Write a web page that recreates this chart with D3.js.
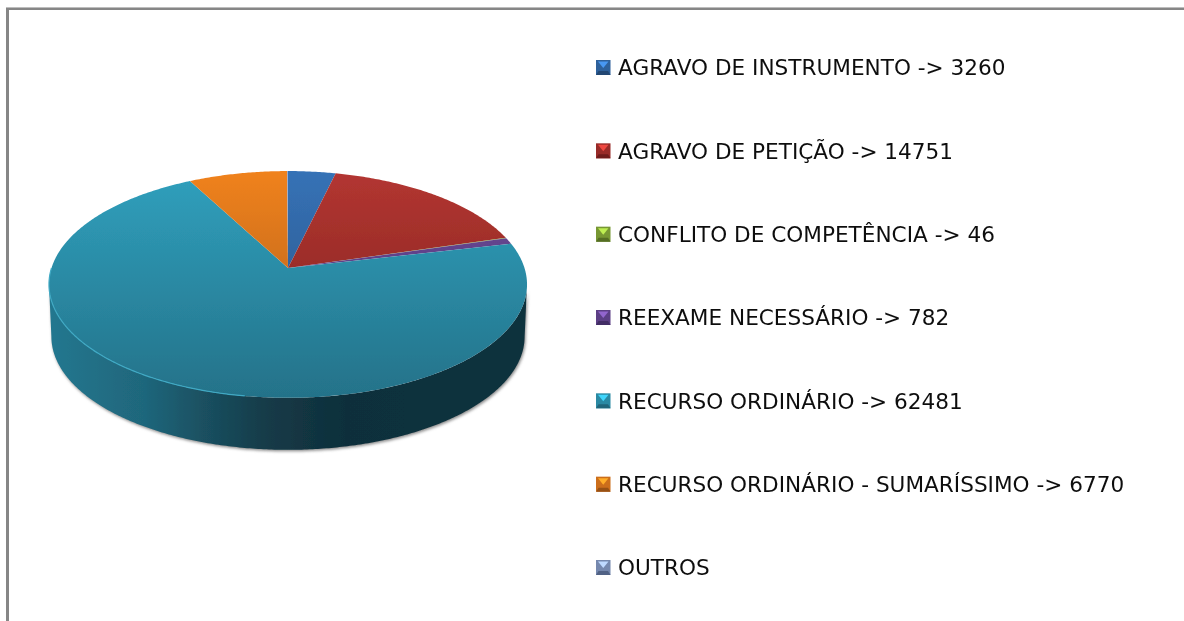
<!DOCTYPE html>
<html>
<head>
<meta charset="utf-8">
<script src="https://cdn.jsdelivr.net/npm/d3@7"></script>
<style>
  html, body { margin: 0; padding: 0; background: #fff; }
  svg { display: block; }
  text { font-family: "DejaVu Sans", sans-serif; fill: #111; }
</style>
</head>
<body>
<svg width="1184" height="621"></svg>
<script>
var categories = ["AGRAVO DE INSTRUMENTO", "AGRAVO DE PETIÇÃO", "CONFLITO DE COMPETÊNCIA", "REEXAME NECESSÁRIO", "RECURSO ORDINÁRIO", "RECURSO ORDINÁRIO - SUMARÍSSIMO", "OUTROS"];
var values = [3260, 14751, 46, 782, 62481, 6770, null];
var outros_estimate = 60; // no number in the legend, read from the thin sliver at the top
var colors_top = ["#3672b6", "#b33631", "#8fb33e", "#6e4c9a", "#30a0bd", "#f0821f", "#8fa3c8"];
var colors_bottom = ["#264f80", "#7c1f1e", "#5f7a28", "#4a3270", "#247289", "#a85a17", "#5a6d94"];

var svg = d3.select("svg"),
    defs = svg.append("defs");

// frame, only top and left are visible
svg.append("path").attr("d", "M7.5,621 V8.5 H1184").attr("fill", "none").attr("stroke", "#868686").attr("stroke-width", 3);
svg.append("path").attr("d", "M6,7.5 H1184").attr("stroke", "#bdbdbd").attr("stroke-width", 1);

/***********************************************************************************************/
// pie with a perspective tilt: the centre sits above the middle of the ellipse

var apex_x = 288, apex_y = 268, depth = 52,
    persp = -0.145, scale_x = 236.5, scale_y = 111;

function project(angle){
  var X = Math.sin(angle), Y = -Math.cos(angle), w = 1 + persp*Y;
  return [apex_x + scale_x*X/w, apex_y + scale_y*Y/w];
}

function rim(a0, a1){
  var n = Math.max(2, Math.ceil((a1 - a0)/0.01));
  return d3.range(n + 1).map(function(i){ return project(a0 + (a1 - a0)*i/n); });
}

var line = d3.line();
var pie = d3.pie().sort(null).value(function(d){ return d === null ? outros_estimate : d; });
var slices = pie(values);

function blur(id, amount){
  defs.append("filter").attr("id", id).attr("x", "-5%").attr("y", "-5%").attr("width", "110%").attr("height", "110%")
      .append("feGaussianBlur").attr("stdDeviation", amount);
}
blur("soft", 0.6);
blur("shadow", 1.5);
blur("text_soft", 0.35);

var side_grad = defs.append("linearGradient")
    .attr("id", "side").attr("gradientUnits", "userSpaceOnUse")
    .attr("x1", 50).attr("x2", 528).attr("y1", 0).attr("y2", 0);
[[0, "#23778f"], [0.2, "#1f667b"], [0.32, "#1a5061"], [0.46, "#143a47"], [0.62, "#0f2f3b"], [1, "#11323e"]].forEach(function(s){
  side_grad.append("stop").attr("offset", s[0]).attr("stop-color", s[1]);
});

categories.forEach(function(c, i){
  var g = defs.append("linearGradient").attr("id", "top" + i).attr("gradientUnits", "userSpaceOnUse")
      .attr("x1", 0).attr("x2", 0).attr("y1", 171).attr("y2", 398);
  g.append("stop").attr("offset", 0).attr("stop-color", colors_top[i]);
  g.append("stop").attr("offset", 1).attr("stop-color", colors_bottom[i]);
});

// wall runs between the two widest points of the ellipse, bottom rim a touch narrower
var widest = Math.acos(persp);
var front = rim(widest, 2*Math.PI - widest);
var wall = front.map(function(p){ return [apex_x + (p[0] - apex_x)*0.99, p[1] + depth]; }).concat(front.slice().reverse());

svg.append("path").attr("d", line(wall.map(function(p){ return [p[0] + 1, p[1] + 1.5]; })) + "Z")
    .attr("fill", "#8a8a8a").attr("filter", "url(#shadow)");

var pie_g = svg.append("g").attr("filter", "url(#soft)");
pie_g.append("path").attr("d", line(wall) + "Z").attr("fill", "url(#side)");

pie_g.selectAll("path.slice").data(slices).enter().append("path")
    .attr("class", "slice")
    .attr("d", function(d){ return line([[apex_x, apex_y]].concat(rim(d.startAngle, d.endAngle))) + "Z"; })
    .attr("fill", function(d, i){ return "url(#top" + i + ")"; });

// lit edge along the lower left of the top face
pie_g.append("path").attr("d", line(rim(Math.PI*1.05, Math.PI*1.5))).attr("fill", "none")
    .attr("stroke", "#3fa9c4").attr("stroke-width", 1.2);

/***********************************************************************************************/
// legend

var legend_y = d3.scalePoint().domain(categories).range([67.5, 567.5]);
var legend = svg.selectAll("g.legend").data(categories).enter().append("g")
    .attr("class", "legend")
    .attr("transform", function(d){ return "translate(596," + legend_y(d) + ")"; });

legend.each(function(d, i){
  var g = d3.select(this),
      c = d3.color(colors_top[i]),
      dark = d3.color(colors_bottom[i]),
      mid = d3.interpolateRgb(c, dark)(0.5);
  g.append("rect").attr("x", 0).attr("y", -7.5).attr("width", 14.5).attr("height", 15).attr("fill", mid);
  g.append("path").attr("d", "M0,7.5 H14.5 L12,3.5 H2.5 Z").attr("fill", dark.darker(0.3));
  g.append("path").attr("d", "M2,-6 H12.5 L7.25,0.5 Z").attr("fill", c.brighter(0.8));
});

legend.append("text")
    .attr("x", 22).attr("y", 0).attr("dy", "0.36em")
    .attr("font-size", 21.6)
    .attr("filter", "url(#text_soft)")
    .text(function(d, i){ return values[i] === null ? d : d + " -> " + values[i]; });
</script>
</body>
</html>
